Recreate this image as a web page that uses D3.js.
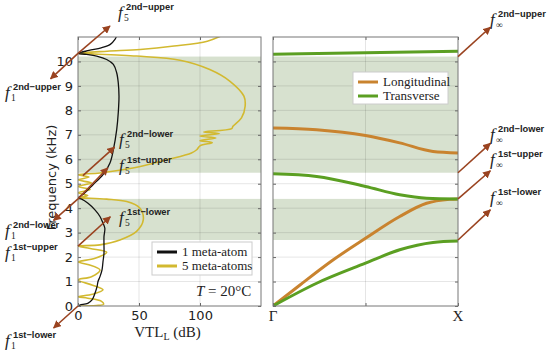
<!DOCTYPE html>
<html>
<head>
<meta charset="utf-8">
<script src="https://cdn.jsdelivr.net/npm/d3@7"></script>
<style>
  body { margin: 0; background: #fff; }
  svg { display: block; }
</style>
</head>
<body>
<div id="chart"></div>
<script>
// --- data ---
// band gaps (kHz)
const bandGaps = [[2.7, 4.38], [5.45, 10.2]];

// left panel: VTL_L (dB) vs frequency (kHz), [kHz, dB]
const oneAtom = [[0,0],[0.04,1.6],[0.11,8],[0.25,11.5],[0.52,13.9],[0.79,15.6],[1.0,16.4],[1.2,18],
  [1.48,19.7],[1.82,20.5],[2.16,21.3],[2.5,21.3],[2.84,21.3],[3.18,22],[3.39,20.5],[3.66,18],
  [3.93,13.9],[4.2,8.2],[4.37,3],[4.41,0],[4.6,5],[4.96,12.3],[5.37,20.5],[5.85,26.2],[6.39,29],
  [7.2,31.7],[7.9,33],[8.58,33.6],[9.13,33],[9.54,31.7],[9.88,29],[10.08,23.5],[10.22,15.3],
  [10.29,7.1],[10.33,0],[10.45,9],[10.56,19],[10.7,26.5],[10.9,30.3],[11.05,31.7]];

const fiveAtoms = [[0,0],[0.02,15],[0.07,21],[0.2,19],[0.32,8],[0.38,0],[0.48,12],[0.66,20.5],
  [0.85,12],[1.07,0],[1.2,11],[1.47,18],[1.7,8],[1.8,0],[1.95,14],[2.2,23.5],[2.35,10],[2.45,0],
  [2.5,18],[2.7,34.4],[3.05,48],[3.52,53.5],[4.0,50.8],[4.27,40],[4.37,23.5],[4.41,7],[4.42,0],
  [4.52,8],[4.63,0],[4.76,10],[4.89,0],[5.03,11],[5.16,0],[5.27,9],[5.37,0],
  [5.44,18],[5.64,45],[5.98,72.7],[6.26,93],[6.39,97.3],[6.55,100],[6.68,110],[6.76,100],
  [6.87,113],[6.95,100],[7.05,116],[7.12,103],[7.25,126],[7.35,127],[7.69,134],[8.17,137],
  [8.58,136],[9.19,124.6],[9.67,108],[10.05,83.6],[10.22,48],[10.33,1.6],[10.34,0],
  [10.42,24],[10.49,51],[10.63,78.7],[10.83,106],[11.04,117]];

// right panel: dispersion, [k (Γ=0, X=1), kHz]
const longBranches = [
  [[0,0],[0.146,0.86],[0.326,1.89],[0.5,2.77],[0.685,3.66],[0.83,4.2],[0.955,4.36],[1,4.38]],
  [[0,7.28],[0.236,7.21],[0.5,6.97],[0.685,6.67],[0.865,6.32],[1,6.26]]
];
const transBranches = [
  [[0,0],[0.236,0.93],[0.5,1.75],[0.685,2.3],[0.865,2.6],[1,2.66]],
  [[0,5.41],[0.236,5.3],[0.5,4.89],[0.685,4.55],[0.83,4.41],[1,4.38]],
  [[0,10.29],[0.5,10.36],[1,10.42]]
];

const yTicks = [0,1,2,3,4,5,6,7,8,9,10];
const xTicks = [0, 50, 100];

// annotation arrows: start [x, kHz], end [x, kHz]
const leftArrows = [
  [[0,10.33],[26.2,11.45]], [[0,10.33],[-22.5,9.29]],
  [[0,4.38],[-20,3.5]], [[0,4.38],[24.5,5.65]],
  [[4,5.33],[30,6.5]], [[0,2.45],[26.5,3.65]],
  [[0,0],[-20,-0.9]]
];
const rightArrows = [
  [[1,10.2],[1.175,11.4]], [[1,5.45],[1.175,6.65]],
  [[1,4.38],[1.175,5.53]], [[1,2.7],[1.175,3.93]]
];
// labels: x px, baseline px, subscript, superscript
const fLabels = [
  [118, 18, "5", "2nd\u2212upper"], [5, 98, "1", "2nd\u2212upper"],
  [119, 145, "5", "2nd\u2212lower"], [119, 171, "5", "1st\u2212upper"],
  [119, 223, "5", "1st\u2212lower"], [5, 236, "1", "2nd\u2212lower"],
  [5, 258, "1", "1st\u2212upper"], [5, 346, "1", "1st\u2212lower"],
  [490, 25, "\u221e", "2nd\u2212upper"], [490, 140, "\u221e", "2nd\u2212lower"],
  [490, 165, "\u221e", "1st\u2212upper"], [490, 203, "\u221e", "1st\u2212lower"]
];

const colors = { black: "#111", yellow: "#d2b930", orange: "#c9832f", green: "#5b9f22",
  band: "#d7e1cf", arrow: "#9a4320" };

// --- layout ---
const W = 550, H = 352;
const yTop = 37, yBot = 306;
const L = { x0: 78, x1: 261 }, R = { x0: 273, x1: 458 };
const sans = "DejaVu Sans, sans-serif";
const serif = "Liberation Serif, Times New Roman, serif";

const svg = d3.select("#chart").append("svg").attr("width", W).attr("height", H);
const defs = svg.append("defs");

const y = d3.scaleLinear().domain([0, 11]).range([yBot, yTop]);
const xL = d3.scaleLinear().domain([0, 150]).range([L.x0, L.x1]);
const xR = d3.scaleLinear().domain([0, 1]).range([R.x0, R.x1]);

defs.append("marker")
  .attr("id", "head").attr("viewBox", "0 0 10 10").attr("refX", 9).attr("refY", 5)
  .attr("markerWidth", 8).attr("markerHeight", 8).attr("markerUnits", "userSpaceOnUse")
  .attr("orient", "auto")
  .append("path").attr("d", "M0,0 L10,5 L0,10 z").attr("fill", colors.arrow);

function panel(P, x, xt) {
  const g = svg.append("g");
  const cp = "clip" + P.x0;
  defs.append("clipPath").attr("id", cp)
    .append("rect").attr("x", P.x0).attr("y", yTop).attr("width", P.x1 - P.x0).attr("height", yBot - yTop);
  // bands
  g.selectAll(".band").data(bandGaps).enter().append("rect")
    .attr("x", P.x0).attr("width", P.x1 - P.x0)
    .attr("y", d => y(d[1])).attr("height", d => y(d[0]) - y(d[1]))
    .attr("fill", colors.band);
  // grid
  g.selectAll(".gy").data(yTicks.slice(1)).enter().append("line")
    .attr("x1", P.x0).attr("x2", P.x1).attr("y1", d => y(d)).attr("y2", d => y(d))
    .attr("stroke", "#000").attr("stroke-opacity", 0.1);
  g.selectAll(".gx").data(xt).enter().append("line")
    .attr("y1", yTop).attr("y2", yBot).attr("x1", d => x(d)).attr("x2", d => x(d))
    .attr("stroke", "#000").attr("stroke-opacity", 0.1);
  return cp;
}

function axes(P, x, xt, labels) {
  const ax = (a, tx, ty) => svg.append("g").attr("transform", `translate(${tx},${ty})`).call(a);
  const yl = ax(d3.axisLeft(y).tickValues(yTicks).tickSize(-3).tickPadding(5)
    .tickFormat(labels ? d3.format("d") : ""), P.x0, 0);
  const yr = ax(d3.axisRight(y).tickValues(yTicks).tickSize(-3).tickFormat(""), P.x1, 0);
  const xb = ax(d3.axisBottom(x).tickValues(xt).tickSize(-3).tickPadding(5)
    .tickFormat(labels ? d3.format("d") : ""), 0, yBot);
  const xtp = ax(d3.axisTop(x).tickValues(xt).tickSize(-3).tickFormat(""), 0, yTop);
  [yl, yr, xb, xtp].forEach(a => {
    a.select(".domain").remove();
    a.selectAll("line").attr("stroke", "#666");
    a.selectAll("text").attr("fill", "#222").style("font-family", sans).style("font-size", "13px");
  });
}

const cpL = panel(L, xL, xTicks.slice(1));
const cpR = panel(R, xR, [0.5]);

// left panel curves
const lineL = d3.line().x(d => xL(d[1])).y(d => y(d[0])).curve(d3.curveCatmullRom.alpha(0.5));
const gl = svg.append("g").attr("clip-path", `url(#${cpL})`);
gl.append("path").attr("d", lineL(fiveAtoms)).attr("fill", "none").attr("stroke", colors.yellow).attr("stroke-width", 1.6);
gl.append("path").attr("d", lineL(oneAtom)).attr("fill", "none").attr("stroke", colors.black).attr("stroke-width", 1.3);

// right panel curves
const lineR = d3.line().x(d => xR(d[0])).y(d => y(d[1])).curve(d3.curveMonotoneX);
const gr = svg.append("g").attr("clip-path", `url(#${cpR})`);
longBranches.forEach(b => gr.append("path").attr("d", lineR(b)).attr("fill", "none").attr("stroke", colors.orange).attr("stroke-width", 3));
transBranches.forEach(b => gr.append("path").attr("d", lineR(b)).attr("fill", "none").attr("stroke", colors.green).attr("stroke-width", 3));

axes(L, xL, xTicks, true);
axes(R, xR, [0, 0.5, 1], false);

// frame on top
[L, R].forEach(P => svg.append("rect").attr("x", P.x0).attr("y", yTop).attr("width", P.x1 - P.x0)
  .attr("height", yBot - yTop).attr("fill", "none").attr("stroke", "#777").attr("stroke-width", 1));

// right panel x labels
svg.append("text").attr("x", xR(0)).attr("y", 321).attr("text-anchor", "middle")
  .style("font-family", serif).style("font-size", "15px").attr("fill", "#222").text("\u0393");
svg.append("text").attr("x", xR(1)).attr("y", 321).attr("text-anchor", "middle")
  .style("font-family", serif).style("font-size", "15px").attr("fill", "#222").text("X");

// axis titles
svg.append("text").attr("transform", `translate(56,${(yTop + yBot) / 2 + 6}) rotate(-90)`)
  .attr("text-anchor", "middle").style("font-family", sans)
  .style("font-size", "13px").attr("fill", "#222").text("Frequency (kHz)");
const xt = svg.append("text").attr("x", (L.x0 + L.x1) / 2 - 2).attr("y", 337).attr("text-anchor", "middle")
  .style("font-family", serif).style("font-size", "15px").attr("fill", "#222");
xt.append("tspan").text("VTL");
xt.append("tspan").attr("dy", 3).style("font-size", "10px").text("L");
xt.append("tspan").attr("dy", -3).text(" (dB)");

// T = 20°C
const tt = svg.append("text").attr("x", 196).attr("y", 296).style("font-family", serif).style("font-size", "15px").attr("fill", "#222");
tt.append("tspan").style("font-style", "italic").text("T");
tt.append("tspan").text(" = 20\u00b0C");

// legends
function legend(x0, y0, w, h, items) {
  svg.append("rect").attr("x", x0).attr("y", y0).attr("width", w).attr("height", h)
    .attr("fill", "#fff").attr("stroke", "#ccc");
  items.forEach((it, i) => {
    const yy = y0 + 10 + i * 14;
    svg.append("line").attr("x1", x0 + 5).attr("x2", x0 + 25).attr("y1", yy).attr("y2", yy)
      .attr("stroke", it[1]).attr("stroke-width", 3);
    svg.append("text").attr("x", x0 + 30).attr("y", yy + 4).style("font-family", serif)
      .style("font-size", "13px").attr("fill", "#222").text(it[0]);
  });
}
legend(152, 242, 100, 33, [["1 meta-atom", colors.black], ["5 meta-atoms", colors.yellow]]);
legend(353, 72, 95, 32, [["Longitudinal", colors.orange], ["Transverse", colors.green]]);

// arrows
const ga = svg.append("g");
leftArrows.forEach(a => ga.append("line")
  .attr("x1", xL(a[0][0])).attr("y1", y(a[0][1])).attr("x2", xL(a[1][0])).attr("y2", y(a[1][1]))
  .attr("stroke", colors.arrow).attr("stroke-width", 1.6).attr("marker-end", "url(#head)"));
rightArrows.forEach(a => ga.append("line")
  .attr("x1", xR(a[0][0])).attr("y1", y(a[0][1])).attr("x2", xR(a[1][0])).attr("y2", y(a[1][1]))
  .attr("stroke", colors.arrow).attr("stroke-width", 1.6).attr("marker-end", "url(#head)"));

// f labels
fLabels.forEach(l => {
  const g = svg.append("g").attr("fill", "#222");
  g.append("text").attr("x", l[0]).attr("y", l[1]).style("font-family", serif)
    .style("font-style", "italic").style("font-size", "17px").text("f");
  g.append("text").attr("x", l[0] + 6).attr("y", l[1] + 3).style("font-family", serif)
    .style("font-size", "9.5px").text(l[2]);
  g.append("text").attr("x", l[0] + 8).attr("y", l[1] - 8).style("font-family", "Liberation Sans, Arial, sans-serif")
    .style("font-weight", "bold").style("font-size", "9.3px").text(l[3]);
});
</script>
</body>
</html>
